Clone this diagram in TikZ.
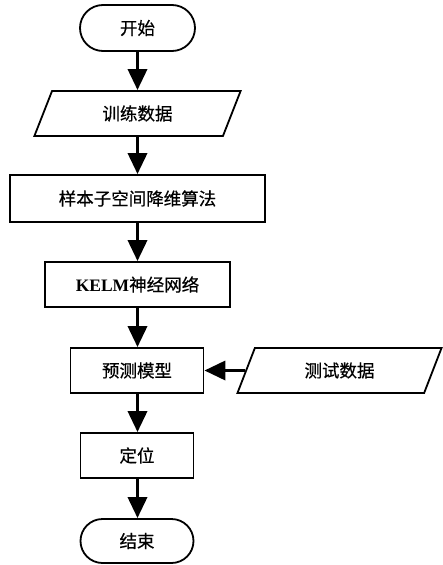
\documentclass[tikz,border=0pt]{standalone}
\usepackage{fontspec}
\setmainfont{Liberation Serif}
\newfontfamily\cjk[FakeBold=0.6]{Noto Sans CJK SC}
\usetikzlibrary{arrows.meta,shapes.geometric,shapes.misc}
\begin{document}
\begin{tikzpicture}[x=1pt,y=-1pt,
  base/.style={draw=black,line width=1.8pt,inner sep=0pt,font=\cjk\fontsize{17.5}{20}\selectfont,align=center},
  stadium/.style={base,rounded rectangle,minimum width=115pt,minimum height=46pt},
  procbox/.style={base,rectangle,minimum height=45pt},
  iobox/.style={base,trapezium,trapezium left angle=66,trapezium right angle=114,trapezium stretches=true,minimum width=207pt,minimum height=45pt},
  flow/.style={line width=3.5pt,-{Triangle[width=19pt,length=21pt]}}
]
\useasboundingbox (0,0) rectangle (442,565);
\node[stadium] (start) at (137.5,28) {开始};
\node[iobox] (train) at (137.5,113.5) {训练数据};
\node[procbox,minimum width=255pt,minimum height=47pt] (dimred) at (137.5,198.5) {样本子空间降维算法};
\node[procbox,minimum width=185pt] (kelm) at (137.5,284.5) {{\rmfamily\bfseries KELM}神经网络};
\node[procbox,minimum width=133pt] (model) at (137,370.5) {预测模型};
\node[iobox,minimum width=205pt] (test) at (339.5,370.5) {测试数据};
\node[procbox,minimum width=113pt] (locate) at (137,455.5) {定位};
\node[stadium,minimum width=113pt,minimum height=44pt] (stop) at (137,541) {结束};
\draw[flow] (start.south) -- (train.north -| start.south);
\draw[flow] (train.south -| start.south) -- (dimred.north -| start.south);
\draw[flow] (dimred.south -| start.south) -- (kelm.north -| start.south);
\draw[flow] (kelm.south -| start.south) -- (model.north -| start.south);
\draw[flow] (model.south -| start.south) -- (locate.north -| start.south);
\draw[flow] (locate.south -| start.south) -- (stop.north -| start.south);
\draw[flow] (test.west) -- (model.east);
\end{tikzpicture}
\end{document}
